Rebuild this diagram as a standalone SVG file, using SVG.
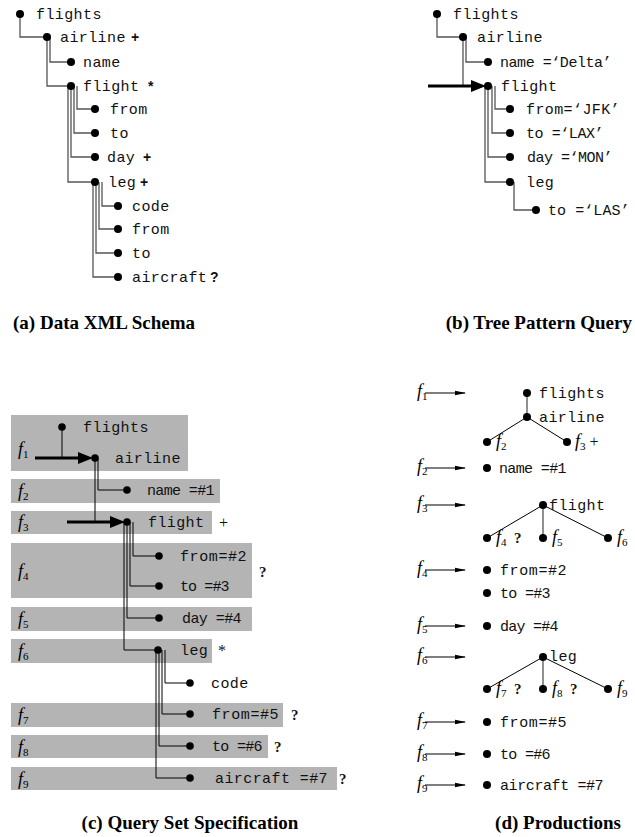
<svg xmlns="http://www.w3.org/2000/svg" width="635" height="837" viewBox="0 0 635 837">
<style>
.t{font-family:"Liberation Mono",monospace;font-size:15px;fill:#111;letter-spacing:0.4px}
.m{font-family:"Liberation Sans",Arial,sans-serif;font-size:14px;font-weight:bold;fill:#111}
.q{font-family:"Liberation Serif","Times New Roman",serif;font-size:15px;font-weight:bold;fill:#111}
.p{font-family:"Liberation Serif","Times New Roman",serif;font-size:16px;fill:#111}
.fl{font-family:"Liberation Serif","Times New Roman",serif;font-size:18px;font-style:italic;fill:#000}
.sub{font-size:11px;font-style:normal}
.cap{font-family:"Liberation Serif","Times New Roman",serif;font-size:19px;font-weight:bold;fill:#000}
.g{fill:none;stroke:#555;stroke-width:1.3}
.k{fill:none;stroke:#000;stroke-width:1}
.ka{fill:none;stroke:#000;stroke-width:1.2}
.thick{fill:none;stroke:#000;stroke-width:3}
.box{fill:#b4b4b4}
circle{fill:#000}
.ah{fill:#000}
</style>
<defs>
<marker id="sa" markerWidth="11" markerHeight="6" refX="10" refY="3" orient="auto" markerUnits="userSpaceOnUse">
<path d="M0,0.8 L11,3 L0,5.2 Z" fill="#000"/>
</marker>
</defs>

<!-- (c) boxes -->
<g id="boxes">
<rect class="box" x="11" y="415" width="177" height="56"/>
<rect class="box" x="11" y="479" width="209" height="24"/>
<rect class="box" x="11" y="511" width="201" height="23"/>
<rect class="box" x="11" y="543" width="241" height="55"/>
<rect class="box" x="11" y="607" width="241" height="24"/>
<rect class="box" x="11" y="639" width="201" height="24"/>
<rect class="box" x="11" y="703" width="272" height="24"/>
<rect class="box" x="11" y="735" width="257" height="23"/>
<rect class="box" x="11" y="767" width="326" height="23"/>
</g>

<g id="connectors">
<!-- (a) -->
<path class="g" d="M20,14 V37 H47"/>
<path class="g" d="M50,37 V62 H71"/>
<path class="g" d="M47,37 V86 H71"/>
<path class="g" d="M77,86 V109 H95"/>
<path class="g" d="M74,86 V133 H95"/>
<path class="g" d="M71,86 V157 H95"/>
<path class="g" d="M68,86 V182 H95"/>
<path class="g" d="M102,182 V206 H118"/>
<path class="g" d="M99,182 V229 H118"/>
<path class="g" d="M96,182 V253 H118"/>
<path class="g" d="M93,182 V277 H118"/>
<!-- (b) -->
<path class="g" d="M437,14 V37 H463"/>
<path class="g" d="M466,37 V62 H488"/>
<path class="g" d="M463,37 V86"/>
<path class="thick" d="M428,86 H474"/>
<path class="ah" d="M471,80 L486,86 L471,92 Z"/>
<path class="g" d="M495,86 V109 H510"/>
<path class="g" d="M492,86 V133 H510"/>
<path class="g" d="M488,86 V157 H510"/>
<path class="g" d="M485,86 V182 H510"/>
<path class="g" d="M514,182 V210 H536"/>
<!-- (c) -->
<path class="k" d="M62,427 V458"/>
<path class="thick" d="M35,458 H82"/>
<path class="ah" d="M78,452 L93,458 L78,464 Z"/>
<path class="k" d="M98,458 V490 H127"/>
<path class="k" d="M95,458 V522"/>
<path class="thick" d="M67,522 H114"/>
<path class="ah" d="M110,516 L125,522 L110,528 Z"/>
<path class="k" d="M133,522 V556 H159"/>
<path class="k" d="M130,522 V586 H159"/>
<path class="k" d="M127,522 V618 H159"/>
<path class="k" d="M124,522 V650 H158"/>
<path class="k" d="M165,650 V683 H190"/>
<path class="k" d="M162,650 V714 H190"/>
<path class="k" d="M159,650 V746 H190"/>
<path class="k" d="M156,650 V778 H190"/>
<!-- (d) -->
<path class="ka" d="M425,393 H465" marker-end="url(#sa)"/>
<path class="ka" d="M425,468 H465" marker-end="url(#sa)"/>
<path class="ka" d="M425,505 H465" marker-end="url(#sa)"/>
<path class="ka" d="M425,570 H465" marker-end="url(#sa)"/>
<path class="ka" d="M425,626 H465" marker-end="url(#sa)"/>
<path class="ka" d="M425,657 H465" marker-end="url(#sa)"/>
<path class="ka" d="M425,722 H465" marker-end="url(#sa)"/>
<path class="ka" d="M425,754 H465" marker-end="url(#sa)"/>
<path class="ka" d="M425,785 H465" marker-end="url(#sa)"/>
<path class="g" d="M527,393 V417"/>
<path class="k" d="M527,417 L487,442"/>
<path class="k" d="M527,417 L567,442"/>
<path class="k" d="M543,505 L487,538"/>
<path class="g" d="M543,505 V538"/>
<path class="k" d="M543,505 L608,538"/>
<path class="k" d="M543,657 L487,689"/>
<path class="g" d="M543,657 V689"/>
<path class="k" d="M543,657 L608,689"/>
</g>

<!-- (a) Data XML Schema -->
<g id="a-flights"><circle cx="20" cy="14" r="4"/><text class="t" x="36" y="19">flights</text></g>
<g id="a-airline"><circle cx="47" cy="37" r="4"/><text class="t" x="60" y="42">airline</text><text class="m" x="131" y="42">+</text></g>
<g id="a-name"><circle cx="71" cy="62" r="4"/><text class="t" x="83" y="67">name</text></g>
<g id="a-flight"><circle cx="71" cy="86" r="4"/><text class="t" x="83" y="91">flight</text><text class="m" x="148" y="91">*</text></g>
<g id="a-from"><circle cx="95" cy="109" r="4"/><text class="t" x="110" y="114">from</text></g>
<g id="a-to"><circle cx="95" cy="133" r="4"/><text class="t" x="110" y="138">to</text></g>
<g id="a-day"><circle cx="95" cy="157" r="4"/><text class="t" x="107" y="162">day</text><text class="m" x="143" y="162">+</text></g>
<g id="a-leg"><circle cx="95" cy="182" r="4"/><text class="t" x="108" y="187">leg</text><text class="m" x="140" y="187">+</text></g>
<g id="a-code"><circle cx="118" cy="206" r="4"/><text class="t" x="132" y="211">code</text></g>
<g id="a-lfrom"><circle cx="118" cy="229" r="4"/><text class="t" x="132" y="234">from</text></g>
<g id="a-lto"><circle cx="118" cy="253" r="4"/><text class="t" x="132" y="258">to</text></g>
<g id="a-aircraft"><circle cx="118" cy="277" r="4"/><text class="t" x="132" y="282">aircraft</text><text class="m" x="210" y="282">?</text></g>
<text class="cap" x="13" y="329">(a) Data XML Schema</text>

<!-- (b) Tree Pattern Query -->
<g id="b-flights"><circle cx="437" cy="14" r="4"/><text class="t" x="453" y="19">flights</text></g>
<g id="b-airline"><circle cx="463" cy="37" r="4"/><text class="t" x="477" y="42">airline</text></g>
<g id="b-name"><circle cx="488" cy="62" r="4"/><text class="t" x="500" y="67" textLength="112" lengthAdjust="spacing">name =‘Delta’</text></g>
<g id="b-flight"><circle cx="488" cy="86" r="4"/><text class="t" x="501" y="91">flight</text></g>
<g id="b-from"><circle cx="510" cy="109" r="4"/><text class="t" x="526" y="114" textLength="94" lengthAdjust="spacing">from=‘JFK’</text></g>
<g id="b-to"><circle cx="510" cy="133" r="4"/><text class="t" x="526" y="138" textLength="78" lengthAdjust="spacing">to =‘LAX’</text></g>
<g id="b-day"><circle cx="510" cy="157" r="4"/><text class="t" x="527" y="162" textLength="86" lengthAdjust="spacing">day =‘MON’</text></g>
<g id="b-leg"><circle cx="510" cy="182" r="4"/><text class="t" x="526" y="187">leg</text></g>
<g id="b-lto"><circle cx="536" cy="210" r="4"/><text class="t" x="548" y="215" textLength="82" lengthAdjust="spacing">to =‘LAS’</text></g>
<text class="cap" x="632" y="329" text-anchor="end">(b) Tree Pattern Query</text>

<!-- (c) Query Set Specification -->
<g id="c-f1"><text class="fl" x="18" y="455">f<tspan class="sub" dy="3">1</tspan></text>
<circle cx="62" cy="427" r="3.8"/><text class="t" x="83" y="432">flights</text>
<circle cx="95" cy="458" r="3.8"/><text class="t" x="115" y="463">airline</text></g>
<g id="c-f2"><text class="fl" x="18" y="497">f<tspan class="sub" dy="3">2</tspan></text>
<circle cx="127" cy="490" r="3.8"/><text class="t" x="147" y="495" textLength="68" lengthAdjust="spacing">name =#1</text></g>
<g id="c-f3"><text class="fl" x="18" y="528">f<tspan class="sub" dy="3">3</tspan></text>
<circle cx="127" cy="522" r="3.8"/><text class="t" x="148" y="527">flight</text><text class="p" x="219" y="528">+</text></g>
<g id="c-f4"><text class="fl" x="18" y="577">f<tspan class="sub" dy="3">4</tspan></text>
<circle cx="159" cy="556" r="3.8"/><text class="t" x="180" y="561" textLength="67" lengthAdjust="spacing">from=#2</text>
<circle cx="159" cy="586" r="3.8"/><text class="t" x="180" y="591" textLength="50" lengthAdjust="spacing">to =#3</text><text class="q" x="259" y="577">?</text></g>
<g id="c-f5"><text class="fl" x="18" y="625">f<tspan class="sub" dy="3">5</tspan></text>
<circle cx="159" cy="618" r="3.8"/><text class="t" x="182" y="623" textLength="60" lengthAdjust="spacing">day =#4</text></g>
<g id="c-f6"><text class="fl" x="18" y="657">f<tspan class="sub" dy="3">6</tspan></text>
<circle cx="158" cy="650" r="3.8"/><text class="t" x="180" y="655">leg</text><text class="p" x="218" y="656">*</text></g>
<g id="c-code"><circle cx="190" cy="683" r="3.8"/><text class="t" x="211" y="688">code</text></g>
<g id="c-f7"><text class="fl" x="18" y="721">f<tspan class="sub" dy="3">7</tspan></text>
<circle cx="190" cy="714" r="3.8"/><text class="t" x="212" y="719" textLength="67" lengthAdjust="spacing">from=#5</text><text class="q" x="291" y="720">?</text></g>
<g id="c-f8"><text class="fl" x="18" y="753">f<tspan class="sub" dy="3">8</tspan></text>
<circle cx="190" cy="746" r="3.8"/><text class="t" x="212" y="751" textLength="51" lengthAdjust="spacing">to =#6</text><text class="q" x="274" y="752">?</text></g>
<g id="c-f9"><text class="fl" x="18" y="785">f<tspan class="sub" dy="3">9</tspan></text>
<circle cx="190" cy="778" r="3.8"/><text class="t" x="215" y="783" textLength="113" lengthAdjust="spacing">aircraft =#7</text><text class="q" x="339" y="784">?</text></g>
<text class="cap" x="190" y="829" text-anchor="middle">(c) Query Set Specification</text>

<!-- (d) Productions -->
<g id="d-f1"><text class="fl" x="417" y="397">f<tspan class="sub" dy="3">1</tspan></text>
<circle cx="527" cy="393" r="4"/><text class="t" x="539" y="398">flights</text>
<circle cx="527" cy="417" r="4"/><text class="t" x="539" y="422">airline</text>
<circle cx="487" cy="442" r="4"/><text class="fl" x="496" y="447">f<tspan class="sub" dy="3">2</tspan></text>
<circle cx="567" cy="442" r="4"/><text class="fl" x="575" y="447">f<tspan class="sub" dy="3">3</tspan><tspan class="p" dy="-3" dx="3">+</tspan></text></g>
<g id="d-f2"><text class="fl" x="417" y="472">f<tspan class="sub" dy="3">2</tspan></text>
<circle cx="487" cy="468" r="4"/><text class="t" x="499" y="473" textLength="68" lengthAdjust="spacing">name =#1</text></g>
<g id="d-f3"><text class="fl" x="417" y="509">f<tspan class="sub" dy="3">3</tspan></text>
<circle cx="543" cy="505" r="4"/><text class="t" x="549" y="510">flight</text>
<circle cx="487" cy="538" r="4"/><text class="fl" x="496" y="543">f<tspan class="sub" dy="3">4</tspan></text><text class="q" x="514" y="543">?</text>
<circle cx="543" cy="538" r="4"/><text class="fl" x="552" y="543">f<tspan class="sub" dy="3">5</tspan></text>
<circle cx="608" cy="538" r="4"/><text class="fl" x="617" y="543">f<tspan class="sub" dy="3">6</tspan></text></g>
<g id="d-f4"><text class="fl" x="417" y="574">f<tspan class="sub" dy="3">4</tspan></text>
<circle cx="487" cy="570" r="4"/><text class="t" x="500" y="575" textLength="67" lengthAdjust="spacing">from=#2</text>
<circle cx="487" cy="593" r="4"/><text class="t" x="500" y="598" textLength="51" lengthAdjust="spacing">to =#3</text></g>
<g id="d-f5"><text class="fl" x="417" y="630">f<tspan class="sub" dy="3">5</tspan></text>
<circle cx="487" cy="626" r="4"/><text class="t" x="500" y="631" textLength="59" lengthAdjust="spacing">day =#4</text></g>
<g id="d-f6"><text class="fl" x="417" y="661">f<tspan class="sub" dy="3">6</tspan></text>
<circle cx="543" cy="657" r="4"/><text class="t" x="549" y="661">leg</text>
<circle cx="487" cy="689" r="4"/><text class="fl" x="496" y="694">f<tspan class="sub" dy="3">7</tspan></text><text class="q" x="514" y="694">?</text>
<circle cx="543" cy="689" r="4"/><text class="fl" x="552" y="694">f<tspan class="sub" dy="3">8</tspan></text><text class="q" x="570" y="694">?</text>
<circle cx="608" cy="689" r="4"/><text class="fl" x="617" y="694">f<tspan class="sub" dy="3">9</tspan></text></g>
<g id="d-f7"><text class="fl" x="417" y="726">f<tspan class="sub" dy="3">7</tspan></text>
<circle cx="487" cy="722" r="4"/><text class="t" x="500" y="727" textLength="67" lengthAdjust="spacing">from=#5</text></g>
<g id="d-f8"><text class="fl" x="417" y="758">f<tspan class="sub" dy="3">8</tspan></text>
<circle cx="487" cy="754" r="4"/><text class="t" x="500" y="759" textLength="51" lengthAdjust="spacing">to =#6</text></g>
<g id="d-f9"><text class="fl" x="417" y="789">f<tspan class="sub" dy="3">9</tspan></text>
<circle cx="487" cy="785" r="4"/><text class="t" x="500" y="790" textLength="104" lengthAdjust="spacing">aircraft =#7</text></g>
<text class="cap" x="558" y="829" text-anchor="middle">(d) Productions</text>
</svg>
